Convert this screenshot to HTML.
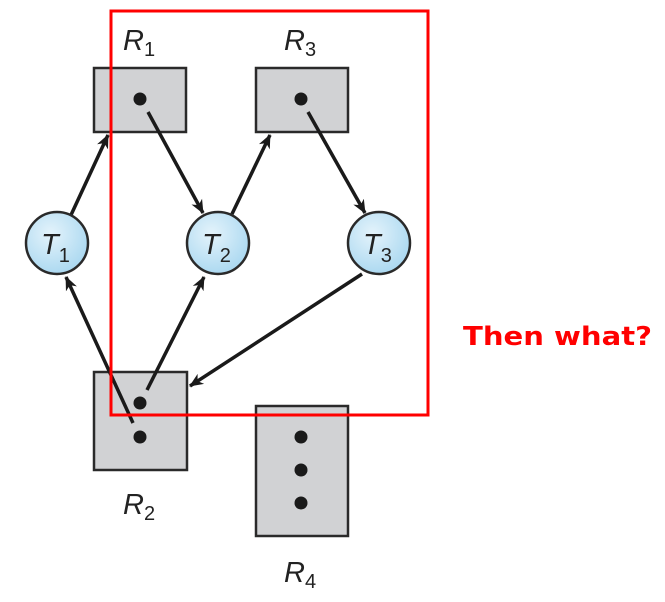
<!DOCTYPE html>
<html><head><meta charset="utf-8"><style>
html,body{margin:0;padding:0;background:#fff;}
svg{display:block;}
.lbl{font-family:"Liberation Sans",sans-serif;font-style:italic;font-size:29px;fill:#222;}
.sub{font-style:normal;font-size:20px;}
</style></head><body>
<svg width="665" height="602" viewBox="0 0 665 602">
<defs>
<marker id="ah" markerWidth="14" markerHeight="14" refX="13" refY="7" orient="auto" markerUnits="userSpaceOnUse" viewBox="0 0 14 14">
<path d="M0,1 L14,7 L0,13 L4,7 Z" fill="#1a1a1a"/>
</marker>
<radialGradient id="cg" cx="40%" cy="35%" r="70%"><stop offset="0" stop-color="#e4f3fb"/><stop offset="1" stop-color="#a8d7f0"/></radialGradient>
</defs>
<g fill="#d1d2d4" stroke="#2a2a2a" stroke-width="2.5">
<rect x="94" y="68" width="92" height="64"/>
<rect x="256" y="68" width="92" height="64"/>
<rect x="94" y="372" width="93" height="98"/>
<rect x="256" y="406" width="92" height="130"/>
</g>
<g fill="#1a1a1a">
<circle cx="140" cy="99" r="6.5"/><circle cx="301" cy="99" r="6.5"/>
<circle cx="140" cy="403" r="6.5"/><circle cx="140" cy="437" r="6.5"/>
<circle cx="301" cy="437" r="6.5"/><circle cx="301" cy="470" r="6.5"/><circle cx="301" cy="503" r="6.5"/>
</g>
<g stroke="#1a1a1a" stroke-width="3.5" marker-end="url(#ah)" fill="none">
<line x1="71" y1="215" x2="108" y2="135"/>
<line x1="148" y1="112" x2="203" y2="213"/>
<line x1="232" y1="214" x2="270" y2="135"/>
<line x1="308" y1="112" x2="365" y2="213"/>
<line x1="362" y1="274" x2="190" y2="386"/>
<line x1="133" y1="423" x2="66" y2="277"/>
<line x1="147" y1="390" x2="204" y2="277"/>
</g>
<g stroke="#2a2a2a" stroke-width="2.5" fill="url(#cg)">
<circle cx="57" cy="243" r="31"/>
<circle cx="218" cy="243" r="31"/>
<circle cx="379" cy="243" r="31"/>
</g>
<text class="lbl" x="41" y="254">T<tspan class="sub" dy="8">1</tspan></text>
<text class="lbl" x="202" y="254">T<tspan class="sub" dy="8">2</tspan></text>
<text class="lbl" x="363" y="254">T<tspan class="sub" dy="8">3</tspan></text>
<text class="lbl" x="123" y="50">R<tspan class="sub" dy="6">1</tspan></text>
<text class="lbl" x="284" y="50">R<tspan class="sub" dy="6">3</tspan></text>
<text class="lbl" x="123" y="514">R<tspan class="sub" dy="6">2</tspan></text>
<text class="lbl" x="284" y="582">R<tspan class="sub" dy="6">4</tspan></text>
<rect x="111" y="11" width="317" height="404" fill="none" stroke="#ff0000" stroke-width="3"/>
<text x="463" y="345" font-family="DejaVu Sans, Liberation Sans, sans-serif" font-weight="bold" font-size="26" fill="#ff0000" textLength="189" lengthAdjust="spacingAndGlyphs">Then what?</text>
</svg>
</body></html>
